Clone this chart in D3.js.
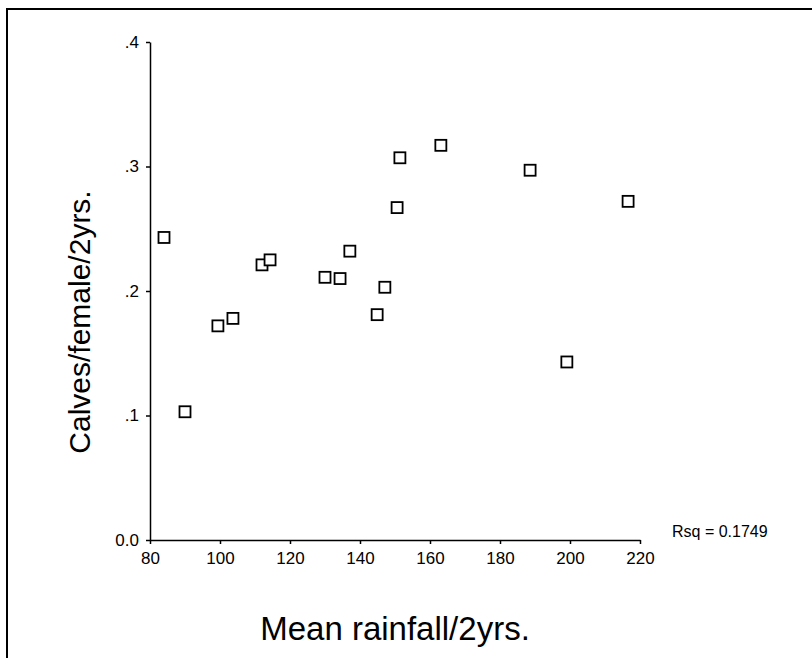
<!DOCTYPE html>
<html lang="en">
<head>
    <meta charset="UTF-8">
    <script src="https://d3js.org/d3.v7.min.js"></script>
    <title>Calves per female vs mean rainfall</title>
    <style>
        body { margin: 0; background: #fff; }
        text { font-family: "Liberation Sans", Arial, sans-serif; fill: #000; }
    </style>
</head>
<body>
    <script>
        // Mean rainfall over 2 years (x) and calves/female/2yrs (y)
        const rainfall = [84, 90, 99.4, 103.7, 112, 114.3, 130, 134.3, 137.1, 144.9, 147.1, 150.6, 151.4, 163.1, 188.6, 199.1, 216.6];
        const calves   = [.243, .103, .172, .178, .221, .225, .211, .210, .232, .181, .203, .267, .307, .317, .297, .143, .272];
        const xTicks = [80, 100, 120, 140, 160, 180, 200, 220];
        const yTicks = [0, .1, .2, .3, .4];
        const yTickLabels = ["0.0", ".1", ".2", ".3", ".4"];
        const rsqText = "Rsq = 0.1749";

        const W = 812, H = 658;
        const svg = d3.select("body").append("svg")
            .attr("width", W)
            .attr("height", H);

        // frame: top and left edges only
        svg.append("path")
            .attr("d", `M7,${H} L7,9 L${W},9`)
            .attr("fill", "none")
            .attr("stroke", "#000")
            .attr("stroke-width", 2);

        const x = d3.scaleLinear().domain([80, 220]).range([150, 640]);
        const y = d3.scaleLinear().domain([0, .4]).range([540, 42]);

        // x axis
        const xAxis = svg.append("g")
            .attr("transform", "translate(0,540)")
            .call(d3.axisBottom(x).tickValues(xTicks).tickSize(4).tickSizeOuter(0).tickPadding(8));
        xAxis.select(".domain").attr("stroke-width", 1.5);
        xAxis.selectAll(".tick line").attr("stroke-width", 1.5);
        xAxis.selectAll("text").attr("font-size", 17).attr("font-family", null);

        // y axis
        const yAxis = svg.append("g")
            .attr("transform", "translate(150,0)")
            .call(d3.axisLeft(y).tickValues(yTicks).tickSize(4).tickSizeOuter(0).tickPadding(7)
                .tickFormat((d, i) => yTickLabels[i]));
        yAxis.select(".domain").attr("stroke-width", 1.5);
        yAxis.selectAll(".tick line").attr("stroke-width", 1.5);
        yAxis.selectAll("text").attr("font-size", 17).attr("font-family", null);

        // points as open squares
        const pts = rainfall.map((r, i) => ({ r, c: calves[i] }));
        const s = 11;
        svg.selectAll("rect.pt")
            .data(pts)
            .enter().append("rect")
            .attr("class", "pt")
            .attr("x", d => x(d.r) - s / 2)
            .attr("y", d => y(d.c) - s / 2)
            .attr("width", s)
            .attr("height", s)
            .attr("fill", "#fff")
            .attr("stroke", "#000")
            .attr("stroke-width", 1.8);

        // Rsq label
        svg.append("text")
            .attr("x", 672)
            .attr("y", 537)
            .attr("font-size", 16)
            .text(rsqText);

        // axis titles
        svg.append("text")
            .attr("x", 395)
            .attr("y", 640)
            .attr("text-anchor", "middle")
            .attr("font-size", 33)
            .text("Mean rainfall/2yrs.");

        svg.append("text")
            .attr("transform", "translate(90,322) rotate(-90)")
            .attr("text-anchor", "middle")
            .attr("font-size", 30)
            .text("Calves/female/2yrs.");
    </script>
</body>
</html>
